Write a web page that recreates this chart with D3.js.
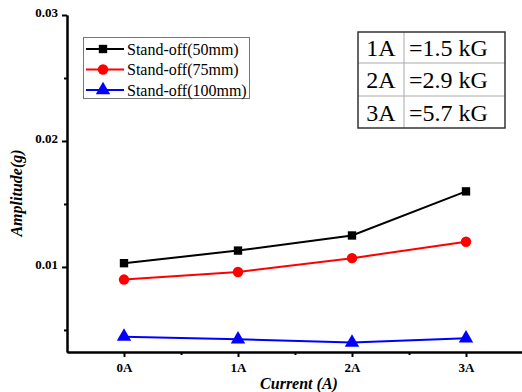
<!DOCTYPE html>
<html><head><meta charset="utf-8">
<script src="https://cdn.jsdelivr.net/npm/d3@7"></script>
<style>body{margin:0;background:#fff}svg{display:block}</style>
</head><body><svg id="c" width="522" height="392"></svg>
<script>
const categories = ["0A","1A","2A","3A"];
const s50 = [0.0103, 0.0113, 0.0125, 0.0160];
const s75 = [0.0090, 0.0096, 0.0107, 0.0120];
const s100 = [0.00447, 0.00426, 0.00400, 0.00434];
const seriesNames = ["Stand-off(50mm)","Stand-off(75mm)","Stand-off(100mm)"];
const yTicks = [0.01, 0.02, 0.03];
const tableRows = [["1A","=1.5 kG"],["2A","=2.9 kG"],["3A","=5.7 kG"]];

const svg = d3.select("#c");
const serif = "'Liberation Serif','Times New Roman',serif";
const x = d3.scaleLinear().domain([-0.5, 3.5]).range([67, 523]);
const y = d3.scaleLinear().domain([0.00325, 0.03]).range([352, 15]);

// axes
const gy = svg.append("g").attr("transform","translate(67,0)")
  .call(d3.axisLeft(y).tickValues(yTicks).tickFormat(d3.format(".2f")).tickSize(5).tickPadding(4).tickSizeOuter(0));
svg.append("g").attr("transform","translate(67,0)")
  .call(d3.axisLeft(y).tickValues([0.005,0.015,0.025]).tickFormat("").tickSize(3).tickSizeOuter(0));
const gx = svg.append("g").attr("transform","translate(0,352)")
  .call(d3.axisBottom(x).tickValues([0,1,2,3]).tickFormat(i=>categories[i]).tickSize(5).tickSizeOuter(0));
svg.append("g").attr("transform","translate(0,352)")
  .call(d3.axisBottom(x).tickValues([0.5,1.5,2.5]).tickFormat("").tickSize(3).tickSizeOuter(0));
svg.selectAll(".domain").attr("stroke","#000").attr("stroke-width",2);
svg.selectAll(".tick line").attr("stroke","#000").attr("stroke-width",2);
svg.selectAll("g").attr("font-family",serif);
svg.selectAll(".tick text").attr("font-family",serif).attr("font-weight","bold").attr("font-size",13).attr("fill","#000");
gy.selectAll(".tick text").attr("dy","0.1em");
gx.selectAll(".tick text").attr("dy","0.95em");

svg.append("text").attr("x",299).attr("y",389).attr("text-anchor","middle")
  .attr("font-family",serif).attr("font-style","italic").attr("font-weight","bold").attr("font-size",16).text("Current (A)");
svg.append("text").attr("transform","translate(22,193) rotate(-90)").attr("text-anchor","middle")
  .attr("font-family",serif).attr("font-style","italic").attr("font-weight","bold").attr("font-size",16).text("Amplitude(g)");

const colors = ["#000000","#ff0000","#0000ff"];
const shapes = [d3.symbolSquare, d3.symbolCircle, d3.symbolTriangle];
const sizes = [70, 85, 90];
const data = [s50, s75, s100];
const line = d3.line().x((d,i)=>x(i)).y(d=>y(d));
data.forEach((s,k)=>{
  svg.append("path").datum(s).attr("d",line).attr("fill","none").attr("stroke",colors[k]).attr("stroke-width",2);
  svg.selectAll(null).data(s).enter().append("path")
    .attr("transform",(d,i)=>`translate(${x(i)},${y(d)})`)
    .attr("d",d3.symbol().type(shapes[k]).size(sizes[k])).attr("fill",colors[k]);
});

// legend
const lg = svg.append("g");
lg.append("rect").attr("x",83.5).attr("y",37.5).attr("width",166).attr("height",61).attr("fill","#fff").attr("stroke","#777").attr("stroke-width",1);
seriesNames.forEach((n,k)=>{
  const yy = 49 + k*20.5;
  lg.append("line").attr("x1",86).attr("x2",124).attr("y1",yy).attr("y2",yy).attr("stroke",colors[k]).attr("stroke-width",2);
  lg.append("path").attr("transform",`translate(103,${yy})`).attr("d",d3.symbol().type(shapes[k]).size(sizes[k])).attr("fill",colors[k]);
  lg.append("text").attr("x",127).attr("y",yy+5.5).attr("font-family",serif).attr("font-size",16).attr("fill","#000").text(n);
});

// table
const tg = svg.append("g");
const tx0=358, tx1=404, tx2=505, ty=[32,63,96,128];
tg.append("line").attr("x1",tx1).attr("x2",tx1).attr("y1",ty[0]).attr("y2",ty[3]).attr("stroke","#aaa").attr("stroke-width",1);
[ty[1],ty[2]].forEach(v=>tg.append("line").attr("x1",tx0).attr("x2",tx2).attr("y1",v).attr("y2",v).attr("stroke","#aaa").attr("stroke-width",1));
tg.append("rect").attr("x",tx0).attr("y",ty[0]).attr("width",tx2-tx0).attr("height",ty[3]-ty[0]).attr("fill","none").attr("stroke","#333").attr("stroke-width",1.5);
tableRows.forEach((r,i)=>{
  const yy=(ty[i]+ty[i+1])/2+8.5;
  tg.append("text").attr("x",(tx0+tx1)/2).attr("y",yy).attr("text-anchor","middle").attr("font-family",serif).attr("font-size",24).text(r[0]);
  tg.append("text").attr("x",tx1+5).attr("y",yy).attr("font-family",serif).attr("font-size",24).text(r[1]);
});
</script></body></html>
